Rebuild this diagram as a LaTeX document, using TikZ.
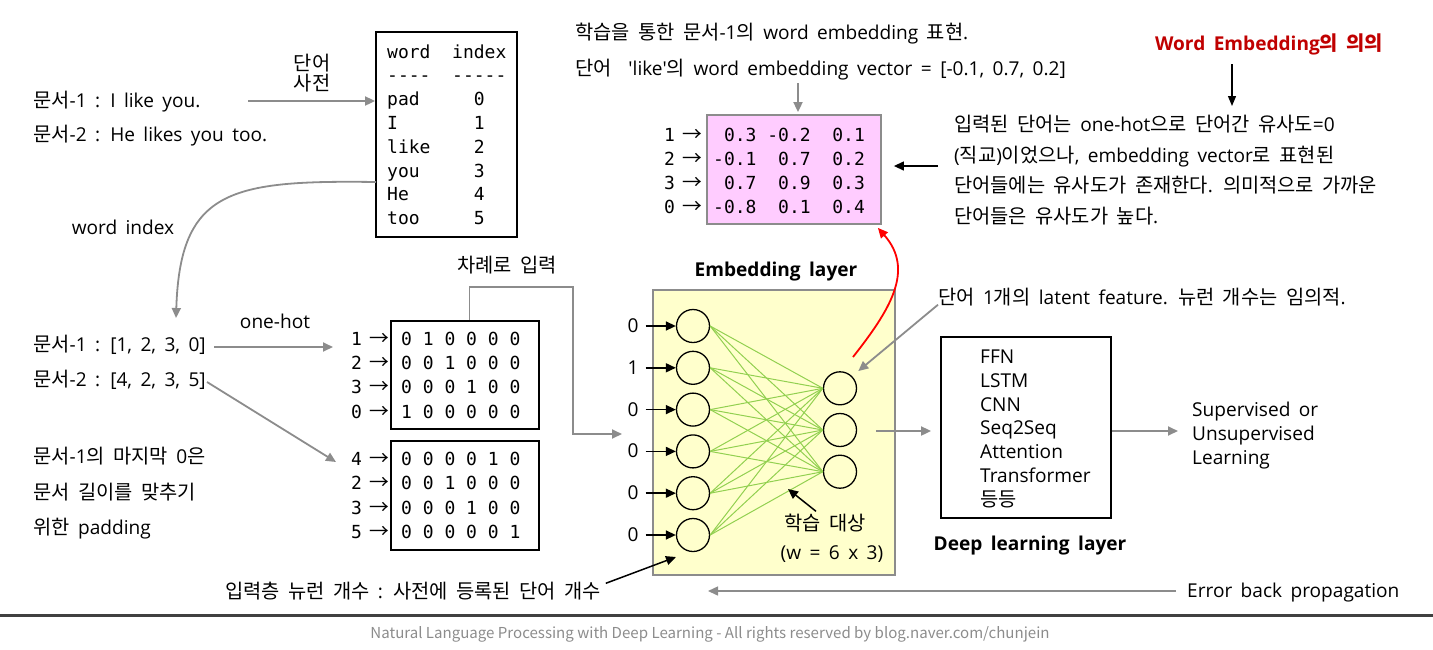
\documentclass[tikz,border=0pt]{standalone}
\usepackage{fontspec}
\setmainfont{Open Sans}[Scale=1.06,WordSpace=1.7]
\setmonofont{DejaVu Sans Mono}
\newfontfamily\krfont{Noto Sans CJK KR}[Scale=1.1]
% Hangul (and the arrow glyph) set in the Korean family
\XeTeXinterchartokenstate=1
\newXeTeXintercharclass\hanclass
\count255="AC00
\loop \XeTeXcharclass\count255=\hanclass \advance\count255 by 1 \ifnum\count255<"D7A4 \repeat
\XeTeXcharclass"2192=\hanclass
\XeTeXinterchartoks 0 \hanclass = {\begingroup\krfont}
\XeTeXinterchartoks 4095 \hanclass = {\begingroup\krfont}
\XeTeXinterchartoks \hanclass 0 = {\endgroup}
\XeTeXinterchartoks \hanclass 4095 = {\endgroup}
\usetikzlibrary{arrows.meta,positioning,calc}
\definecolor{nlpGray}{HTML}{8C8C8C}
\definecolor{nlpYellow}{HTML}{FFFFCC}
\definecolor{nlpPink}{HTML}{FFCCFF}
\definecolor{nlpGreen}{HTML}{92D050}
\definecolor{nlpRed}{HTML}{C00000}

\begin{document}
\begin{tikzpicture}[x=1pt,y=-1pt,font=\fontsize{18}{22}\selectfont,
    txt/.style={inner sep=0pt,anchor=west,text height=13pt,text depth=0pt},
    mono/.style={txt,font=\ttfamily\fontsize{18}{22}\selectfont},
    ttl/.style={font=\bfseries\fontsize{18}{22}\selectfont},
    garrow/.style={draw=nlpGray,line width=1.8pt,-{Triangle[length=10pt,width=9pt]}},
    karrow/.style={draw=black,line width=1.5pt,-{Triangle[length=10pt,width=9pt]}},
    frame/.style={draw,line width=1.8pt,inner sep=0pt},
    neuron/.style={circle,draw,line width=1.3pt,fill=nlpYellow,minimum size=33pt,inner sep=0pt},
    link/.style={draw=nlpGreen,line width=1pt}]
  \useasboundingbox (0,0) rectangle (1433,649);

  % documents and word dictionary
  \node[txt] (doc1) at (33,101) {문서-1 : I like you.};
  \node[txt] (doc2) at (33,135) {문서-2 : He likes you too.};
  \node[frame,minimum width=141pt,minimum height=205pt] (dict) at (446.5,134.5) {};
  \foreach \row [count=\k] in {word~~index,----~~-----,pad~~~~~0,I~~~~~~~1,like~~~~2,you~~~~~3,He~~~~~~4,too~~~~~5}
    \node[mono] (dict\k) at (387,{51.5+23.8*(\k-1)}) {\row};
  \coordinate (sent) at (248,101);
  \draw[garrow] (sent) -- (sent -| dict.west);
  \node[align=center,inner sep=0pt,font=\fontsize{18}{20}\selectfont] (dictlbl) at (312,73) {단어\\사전};
  \coordinate (idxout) at (376,182);
  \coordinate (idxin) at (176,318);
  \draw[garrow] (idxout) .. controls (230,180) and (180,190) .. (idxin);
  \node[txt,anchor=center] (idxlbl) at (123,228) {word index};

  % word index and one-hot
  \node[txt] (vec1) at (33,345) {문서-1 : [1, 2, 3, 0]};
  \node[txt] (vec2) at (33,380) {문서-2 : [4, 2, 3, 5]};
  \foreach \row [count=\k] in {문서-1의 마지막 0은,문서 길이를 맞추기,위한 padding}
    \node[txt] (pad\k) at (33,{457+35.5*(\k-1)}) {\row};
  \node[frame,minimum width=148pt,minimum height=108pt] (oh1) at (465,375) {};
  \node[frame,minimum width=148pt,minimum height=109pt] (oh2) at (465,495.5) {};
  \foreach \lbl/\bits [count=\k] in {1/0~1~0~0~0~0,2/0~0~1~0~0~0,3/0~0~0~1~0~0,0/1~0~0~0~0~0} {
    \node[txt,anchor=east] (oh1l\k) at (389,{339+24.2*(\k-1)}) {{\ttfamily\lbl}\hspace{7pt}→};
    \node[mono] (oh1r\k) at (401,{339+24.2*(\k-1)}) {\bits};
  }
  \foreach \lbl/\bits [count=\k] in {4/0~0~0~0~1~0,2/0~0~1~0~0~0,3/0~0~0~1~0~0,5/0~0~0~0~0~1} {
    \node[txt,anchor=east] (oh2l\k) at (389,{459+24.3*(\k-1)}) {{\ttfamily\lbl}\hspace{7pt}→};
    \node[mono] (oh2r\k) at (401,{459+24.3*(\k-1)}) {\bits};
  }
  \coordinate (ohfrom) at (214,347);
  \coordinate (ohto) at (333,347);
  \draw[garrow] (ohfrom) -- (ohto);
  \node[txt,anchor=center] (ohlbl) at (275,322) {one-hot};
  \coordinate (vec2out) at (207,382);
  \coordinate (oh2in) at (336,462);
  \draw[garrow] (vec2out) -- (oh2in);
  \node[txt,anchor=center] (seqlbl) at (507,266) {차례로 입력};
  \coordinate (embin) at (622,434);
  \draw[garrow] ($(oh1.north west)!0.53!(oh1.north east)$) |- (573,287) |- (embin);

  % embedding layer
  \node[draw=nlpGray,line width=1.8pt,fill=nlpYellow,minimum width=242pt,minimum height=285pt,inner sep=0pt] (emb) at (774,432.5) {};
  \node[ttl] (embttl) at (776,272) {Embedding layer};
  \foreach \v [count=\k] in {0,1,0,0,0,0} {
    \node[neuron] (in\k) at (693,{326+41.8*(\k-1)}) {};
    \node[txt,anchor=center] (x\k) at (633,{326+41.8*(\k-1)}) {\v};
    \draw[karrow] ([xshift=7pt]x\k.east) -- (in\k.west);
  }
  \foreach \k in {1,2,3}
    \node[neuron] (hid\k) at (840,{388.3+41.7*(\k-1)}) {};
  \foreach \i in {1,...,6}
    \foreach \j in {1,2,3}
      \draw[link] (in\i.east) -- (hid\j.west);
  \node[txt,anchor=center] (train) at (825,524) {학습 대상};
  \node[txt,anchor=center] (wsize) at (832,553) {(w = 6 x 3)};
  \coordinate (wtip) at (788,489);
  \draw[karrow] ([xshift=-9pt,yshift=6pt]train.north) -- (wtip);

  % deep learning layer
  \node[frame,minimum width=170pt,minimum height=181pt] (deep) at (1026,427.5) {};
  \foreach \m [count=\k] in {FFN,LSTM,CNN,Seq2Seq,Attention,Transformer,등등}
    \node[txt] (dl\k) at (980,{357+23.8*(\k-1)}) {\m};
  \node[ttl] (deepttl) at (1030,546) {Deep learning layer};
  \coordinate (embout) at (876,431);
  \draw[garrow,shorten >=9pt] (embout) -- (embout -| deep.west);
  \coordinate (supin) at (1178,431);
  \draw[garrow] (supin -| deep.east) -- (supin);
  \foreach \row [count=\k] in {Supervised or,Unsupervised,Learning}
    \node[txt] (sup\k) at (1192,{410+24*(\k-1)}) {\row};

  % embedding matrix
  \node[txt] (etxt1) at (575,33) {학습을 통한 문서-1의 word embedding 표현.};
  \node[txt] (etxt2) at (575,69) {단어~~\textquotesingle like\textquotesingle 의 word embedding vector = [-0.1, 0.7, 0.2]};
  \node[draw=nlpGray,line width=1.8pt,fill=nlpPink,minimum width=174pt,minimum height=109pt,inner sep=0pt] (emat) at (794,169.5) {};
  \foreach \lbl/\vals [count=\k] in {1/~0.3~-0.2~~0.1,2/-0.1~~0.7~~0.2,3/~0.7~~0.9~~0.3,0/-0.8~~0.1~~0.4} {
    \node[txt,anchor=east] (eml\k) at (702,{135+24*(\k-1)}) {{\ttfamily\lbl}\hspace{7pt}→};
    \node[mono] (emr\k) at (713,{135+24*(\k-1)}) {\vals};
  }
  \coordinate (liketop) at (798,83);
  \draw[garrow,shorten >=2pt] (liketop) -- (liketop |- emat.north);
  \coordinate (redfrom) at (853,357);
  \draw[red,line width=1.8pt,-{Triangle[length=10pt,width=9pt]}] (redfrom) .. controls (890,310) and (915,270) .. ([xshift=-4pt,yshift=-3pt]emat.south east);

  % meaning of word embedding
  \node[ttl,text=nlpRed] (meaning) at (1269,44) {Word Embedding의 의의};
  \coordinate (meantop) at (1232,64);
  \coordinate (meanbot) at (1232,106);
  \draw[draw=black,line width=1.2pt,-{Triangle[length=10pt,width=8pt]}] (meantop) -- (meanbot);
  \foreach \row [count=\k] in {{입력된 단어는 one-hot으로 단어간 유사도=0},{(직교)이었으나, embedding vector로 표현된},{단어들에는 유사도가 존재한다. 의미적으로 가까운},{단어들은 유사도가 높다.}}
    \node[txt] (sim\k) at (954,{125+30.7*(\k-1)}) {\row};
  \coordinate (simtxt) at (938,166);
  \draw[karrow,line width=1.3pt,shorten >=12pt] (simtxt) -- (simtxt -| emat.east);

  \node[txt] (latent) at (938,298) {단어 1개의 latent feature. 뉴런 개수는 임의적.};
  \draw[garrow,shorten >=8pt] (latent.south west) -- (hid1.north east);

  % bottom notes
  \node[txt] (inputcnt) at (225,592) {입력층 뉴런 개수 : 사전에 등록된 단어 개수};
  \coordinate (inputtip) at (676,557);
  \draw[karrow] ([xshift=5pt,yshift=2pt]inputcnt.north east) -- (inputtip);
  \node[txt] (backprop) at (1187,591) {Error back propagation};
  \coordinate (bptip) at (708,591);
  \draw[garrow,line width=1.5pt] ([xshift=-11pt]backprop.west) -- (bptip);

  \draw[line width=3.5pt,black!75] (0,615.5) -- (1433,615.5);
  \node[font=\krfont\fontsize{13.7}{16}\selectfont,text=nlpGray] (footer) at (710,634) {Natural Language Processing with Deep Learning - All rights reserved by blog.naver.com/chunjein};
\end{tikzpicture}
\end{document}
